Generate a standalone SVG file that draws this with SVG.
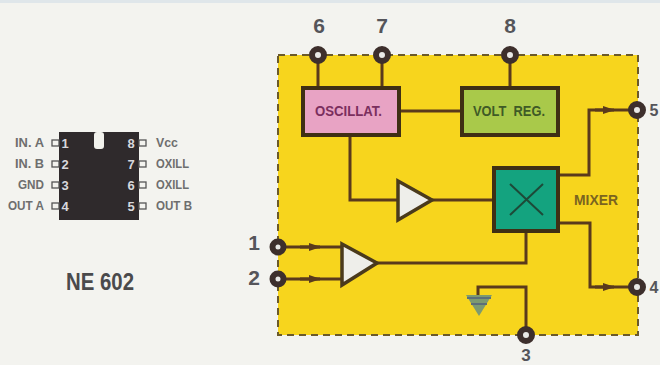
<svg xmlns="http://www.w3.org/2000/svg" width="660" height="365" viewBox="0 0 660 365">
<style>
text{font-family:"Liberation Sans",Arial,sans-serif;font-weight:bold}
.w{fill:none;stroke:#5a3a1c;stroke-width:3}
.t{fill:#eeeeea;stroke:#4a3a1c;stroke-width:3.5;stroke-linejoin:miter}
.b{stroke:#3f2f14;stroke-width:4}
.p{fill:#e9e9e6;stroke:#3d2f2c;stroke-width:6}
.n{font-size:21px;fill:#55555a;text-anchor:middle}
.l{font-size:12.5px;fill:#6e6e6e}
.pin{font-size:13px;fill:#d8d8dc;text-anchor:middle}
.s{fill:none;stroke:#555;stroke-width:1.3}
</style>
<defs>
<marker id="a" markerUnits="userSpaceOnUse" markerWidth="14" markerHeight="10" refX="11" refY="5" orient="auto"><path d="M0 1 L12 5 L0 9 Z" fill="#5a3a1c"/></marker>
</defs>
<rect width="660" height="365" fill="#f3f3ef"/>
<rect x="0" y="0" width="660" height="3" fill="#dfe6ea"/>
<g id="chip">
<rect x="59" y="132" width="80" height="88" fill="#2f2a2c"/>
<rect x="94" y="132" width="10" height="17" rx="3" fill="#f1f1ec"/>
<g class="s">
<rect x="52" y="140" width="7" height="6"/><rect x="52" y="161" width="7" height="6"/><rect x="52" y="182" width="7" height="6"/><rect x="52" y="203" width="7" height="6"/>
<rect x="139" y="140" width="7" height="6"/><rect x="139" y="161" width="7" height="6"/><rect x="139" y="182" width="7" height="6"/><rect x="139" y="203" width="7" height="6"/>
</g>
<text class="pin" x="65" y="148">1</text><text class="pin" x="65" y="169">2</text><text class="pin" x="65" y="190">3</text><text class="pin" x="65" y="211">4</text>
<text class="pin" x="131" y="148">8</text><text class="pin" x="131" y="169">7</text><text class="pin" x="131" y="190">6</text><text class="pin" x="131" y="211">5</text>
<text class="l" x="15" y="147" textLength="29" lengthAdjust="spacingAndGlyphs">IN. A</text>
<text class="l" x="15" y="168" textLength="29" lengthAdjust="spacingAndGlyphs">IN. B</text>
<text class="l" x="18" y="189" textLength="26" lengthAdjust="spacingAndGlyphs">GND</text>
<text class="l" x="8" y="210" textLength="36" lengthAdjust="spacingAndGlyphs">OUT A</text>
<text class="l" x="156" y="147" textLength="22" lengthAdjust="spacingAndGlyphs">Vcc</text>
<text class="l" x="156" y="168" textLength="33" lengthAdjust="spacingAndGlyphs">OXILL</text>
<text class="l" x="156" y="189" textLength="33" lengthAdjust="spacingAndGlyphs">OXILL</text>
<text class="l" x="156" y="210" textLength="36" lengthAdjust="spacingAndGlyphs">OUT B</text>
<text x="66" y="290" font-size="24" fill="#4a4a4c" textLength="68" lengthAdjust="spacingAndGlyphs">NE 602</text>
</g>
<g id="block">
<rect x="278" y="55" width="360" height="280" fill="#f7d51d" stroke="#6b5a2a" stroke-width="2" stroke-dasharray="7 5"/>
</g>
<g id="connectors">
<path class="w" d="M318 55V87M382 55V87M510 55V87M399 111H461M350 135V200H397M432 200H494"/>
<path class="w" d="M558 175H589V110H637" />
<path class="w" d="M558 223H590V287H637"/>
<path class="w" d="M526 231V263H377"/>
<path class="w" d="M478 295V287H526V335"/>
<path class="w" d="M278 247H342M278 279H342"/>
<path class="w" d="M595 110H614" marker-end="url(#a)"/>
<path class="w" d="M595 287H614" marker-end="url(#a)"/>
<path class="w" d="M300 247H320" marker-end="url(#a)"/>
<path class="w" d="M300 279H320" marker-end="url(#a)"/>
</g>
<g id="oscillator">
<rect class="b" x="303" y="88" width="96" height="47" fill="#e8a3c4"/>
<text x="315" y="116" font-size="14" fill="#7b2f5e" textLength="67" lengthAdjust="spacingAndGlyphs">OSCILLAT.</text>
</g>
<g id="voltreg">
<rect class="b" x="462" y="88" width="96" height="47" fill="#a9c94a"/>
<text x="473" y="116" font-size="14" fill="#3f5a26" textLength="72" lengthAdjust="spacingAndGlyphs" xml:space="preserve">VOLT  REG.</text>
</g>
<g id="mixer">
<rect class="b" x="494" y="168" width="64" height="63" fill="#14a37f"/>
<path d="M510 184L543 215M543 184L510 215" stroke="#1d4a38" stroke-width="2" fill="none"/>
<text x="574" y="205" font-size="14" fill="#7a6420" textLength="44" lengthAdjust="spacingAndGlyphs">MIXER</text>
</g>
<g id="amp1"><path class="t" d="M398 181L432 200L398 220Z"/></g>
<g id="amp2"><path class="t" d="M342 244L377 263L342 285Z"/></g>
<g id="ground"><path d="M466 295H492L479 316Z" fill="#7d9a70"/><path d="M467 298H491M471 304H487" stroke="#5c6f78" stroke-width="2"/></g>
<g id="pin1"><circle class="p" cx="278" cy="247" r="5.5"/><text class="n" x="254" y="250">1</text></g>
<g id="pin2"><circle class="p" cx="278" cy="279" r="5.5"/><text class="n" x="254" y="285">2</text></g>
<g id="pin3"><circle class="p" cx="526" cy="335" r="6"/><text class="n" x="526" y="361" style="font-size:17px">3</text></g>
<g id="pin4"><circle class="p" cx="637" cy="287" r="6"/><text class="n" x="654" y="293" style="font-size:16px">4</text></g>
<g id="pin5"><circle class="p" cx="637" cy="110" r="6"/><text class="n" x="654" y="116" style="font-size:16px">5</text></g>
<g id="pin6"><circle class="p" cx="318" cy="55" r="6"/><text class="n" x="319" y="33">6</text></g>
<g id="pin7"><circle class="p" cx="382" cy="55" r="6"/><text class="n" x="382" y="33">7</text></g>
<g id="pin8"><circle class="p" cx="510" cy="55" r="6"/><text class="n" x="510" y="33">8</text></g>
</svg>
